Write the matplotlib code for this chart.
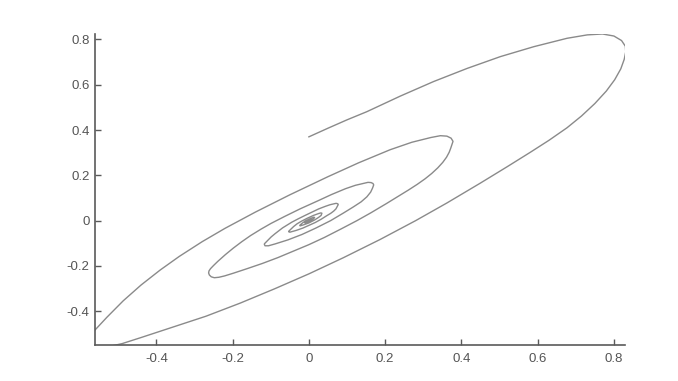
import matplotlib
matplotlib.use("Agg")
from matplotlib import pyplot as plt

plt.rcParams['font.family'] = ['Liberation Sans', 'DejaVu Sans']

# trajectory, one pair of lists per half turn of the spiral
# h1: start -> first right turn
x_h1 = [0.000, 0.050, 0.100, 0.152, 0.240, 0.327, 0.415, 0.502, 0.590, 0.677, 0.730, 0.770, 0.800, 0.820, 0.830, 0.831]
y_h1 = [0.370, 0.408, 0.445, 0.481, 0.550, 0.614, 0.672, 0.724, 0.768, 0.805, 0.820, 0.824, 0.815, 0.795, 0.770, 0.745]

# h2: outer lower side, right turn -> bottom left turn
x_h2 = [0.827, 0.818, 0.802, 0.780, 0.750, 0.715, 0.677, 0.630, 0.580, 0.520, 0.450, 0.362, 0.280, 0.187,
        0.090, 0.000, -0.090, -0.180, -0.270, -0.360, -0.440, -0.490, -0.525, -0.550, -0.567, -0.577, -0.579]
y_h2 = [0.712, 0.670, 0.622, 0.572, 0.517, 0.462, 0.410, 0.355, 0.301, 0.238, 0.166, 0.078, 0.000, -0.083,
        -0.164, -0.235, -0.301, -0.364, -0.422, -0.472, -0.516, -0.543, -0.556, -0.560, -0.554, -0.540, -0.520]

# h3: outer upper side, back up to the second right turn
x_h3 = [-0.572, -0.561, -0.530, -0.487, -0.440, -0.390, -0.340, -0.280, -0.220, -0.140, -0.050, 0.050,
        0.130, 0.213, 0.270, 0.320, 0.345, 0.362, 0.373, 0.378]
y_h3 = [-0.500, -0.483, -0.427, -0.354, -0.284, -0.218, -0.158, -0.093, -0.034, 0.038, 0.114, 0.194,
        0.255, 0.313, 0.346, 0.367, 0.375, 0.373, 0.364, 0.350]

x_h4 = [0.372, 0.368, 0.361, 0.351, 0.338, 0.322, 0.305, 0.284, 0.261, 0.234, 0.203, 0.163, 0.126, 0.084,
        0.041, 0.000, -0.041, -0.081, -0.122, -0.162, -0.198, -0.221, -0.236, -0.248, -0.256, -0.261, -0.263]
y_h4 = [0.320, 0.302, 0.280, 0.257, 0.233, 0.208, 0.185, 0.160, 0.135, 0.107, 0.075, 0.035, 0.000, -0.037,
        -0.074, -0.106, -0.135, -0.163, -0.189, -0.212, -0.232, -0.244, -0.250, -0.252, -0.248, -0.240, -0.231]

x_h5 = [-0.262, -0.258, -0.250, -0.239, -0.219, -0.198, -0.176, -0.153, -0.126, -0.099, -0.063, -0.023, 0.023,
        0.059, 0.096, 0.122, 0.144, 0.155, 0.163, 0.168, 0.170]
y_h5 = [-0.222, -0.212, -0.198, -0.180, -0.150, -0.121, -0.093, -0.066, -0.038, -0.012, 0.019, 0.052, 0.087,
        0.115, 0.141, 0.156, 0.165, 0.169, 0.168, 0.164, 0.158]

x_h6 = [0.167, 0.162, 0.152, 0.137, 0.117, 0.091, 0.057, 0.018, -0.018, -0.055, -0.089, -0.106, -0.115, -0.117]
y_h6 = [0.144, 0.126, 0.105, 0.083, 0.061, 0.034, 0.000, -0.033, -0.061, -0.085, -0.103, -0.111, -0.111, -0.104]

x_h7 = [-0.116, -0.107, -0.099, -0.089, -0.069, -0.045, -0.028, -0.010, 0.010, 0.026, 0.043, 0.055, 0.065, 0.070, 0.073, 0.076, 0.077]
y_h7 = [-0.101, -0.086, -0.072, -0.058, -0.032, -0.007, 0.008, 0.023, 0.039, 0.052, 0.063, 0.070, 0.074, 0.076, 0.076, 0.074, 0.071]

x_h8 = [0.074, 0.071, 0.065, 0.057, 0.047, 0.033, 0.017, 0.000, -0.016, -0.033, -0.045, -0.050, -0.053, -0.053]
y_h8 = [0.061, 0.052, 0.042, 0.032, 0.022, 0.007, -0.008, -0.021, -0.033, -0.043, -0.049, -0.051, -0.049, -0.047]

x_h9 = [-0.048, -0.040, -0.031, -0.020, -0.005, 0.012, 0.025, 0.031, 0.034, 0.034]
y_h9 = [-0.039, -0.026, -0.014, -0.003, 0.010, 0.023, 0.031, 0.034, 0.033, 0.032]

x_core = [0.032, 0.026, 0.015, 0.000, -0.015, -0.023, -0.024, -0.018, -0.009, 0.005, 0.013, 0.015,
          0.012, 0.000, -0.010, -0.011, -0.006, 0.004, 0.007, 0.005, 0.000, -0.004, 0.000]
y_core = [0.023, 0.015, 0.003, -0.010, -0.019, -0.023, -0.021, -0.012, -0.001, 0.010, 0.015, 0.014,
          0.008, -0.004, -0.010, -0.009, -0.003, 0.005, 0.006, 0.003, -0.002, -0.004, 0.000]

xs = x_h1 + x_h2 + x_h3 + x_h4 + x_h5 + x_h6 + x_h7 + x_h8 + x_h9 + x_core
ys = y_h1 + y_h2 + y_h3 + y_h4 + y_h5 + y_h6 + y_h7 + y_h8 + y_h9 + y_core

ticks = [-0.4, -0.2, 0, 0.2, 0.4, 0.6, 0.8]
tick_labels = ['-0.4', '-0.2', '0', '0.2', '0.4', '0.6', '0.8']

fig = plt.figure(figsize=(6.78, 3.81), dpi=100)
ax = fig.add_axes([0.1401, 0.0945, 0.7817, 0.8163])

ax.plot(xs, ys, color='#8a8a8a', lw=1.0)

ax.set_xlim(-0.561, 0.829)
ax.set_ylim(-0.549, 0.824)
ax.set_xticks(ticks)
ax.set_yticks(ticks)
ax.set_xticklabels(tick_labels)
ax.set_yticklabels(tick_labels)

for s in ['top', 'right']:
    ax.spines[s].set_visible(False)
for s in ['left', 'bottom']:
    ax.spines[s].set_color('#5a5a5a')
    ax.spines[s].set_linewidth(1.2)
ax.tick_params(direction='in', length=4, width=1, color='#5a5a5a',
               labelsize=9.5, labelcolor='#555555')
ax.tick_params(axis='x', pad=6)
ax.tick_params(axis='y', pad=4)

fig.savefig('out.png', dpi=100)
